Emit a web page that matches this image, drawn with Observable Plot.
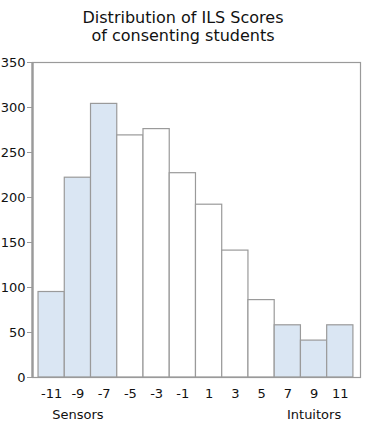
<!DOCTYPE html>
<html>
<head>
<meta charset="utf-8">
<script src="https://cdn.jsdelivr.net/npm/d3@7"></script>
<script src="https://cdn.jsdelivr.net/npm/@observablehq/plot@0.6"></script>
<style>
  html, body { margin: 0; padding: 0; background: #fff; }
  #title {
    width: 366px; box-sizing: border-box; padding-top: 9px;
    font: 16px "DejaVu Sans", sans-serif; line-height: 18px;
    text-align: center; color: #111;
  }
  svg { display: block; }
</style>
</head>
<body>
<div id="title">Distribution of ILS Scores<br>of consenting students</div>
<div id="chart"></div>
<script>
// ILS sensing/intuitive scale: odd scores from -11 to 11, student counts per score
const scores = [-11, -9, -7, -5, -3, -1, 1, 3, 5, 7, 9, 11];
const counts = [95, 222, 304, 269, 276, 227, 192, 141, 86, 58, 41, 58];
// the three strongest scores at each end are shaded
const strong = [true, true, true, false, false, false, false, false, false, true, true, true];
const poleLabels = ["Sensors", "Intuitors"];
const polePositions = [-9, 9];
const yTicks = [0, 50, 100, 150, 200, 250, 300, 350];

const bins = scores.map((s, i) => ({score: s, count: counts[i], strong: strong[i]}));
const poles = poleLabels.map((label, i) => ({label, x: polePositions[i]}));

const gray = "#9a9a9a";

const chart = Plot.plot({
  width: 366,
  height: 381,
  marginTop: 17,
  marginBottom: 49,
  marginLeft: 32,
  marginRight: 6,
  style: {fontFamily: "DejaVu Sans, sans-serif", fontSize: "13px", color: "#111"},
  x: {domain: [-12.46, 12.54]},
  y: {domain: [0, 350]},
  marks: [
    Plot.rect(bins, {
      x1: d => d.score - 1,
      x2: d => d.score + 1,
      y1: 0,
      y2: "count",
      fill: d => d.strong ? "#dae6f3" : "#ffffff",
      stroke: gray,
      strokeWidth: 1.2
    }),
    Plot.frame({stroke: gray, strokeWidth: 1.2}),
    Plot.ruleX([-12.46], {stroke: gray, strokeWidth: 2.4}),
    Plot.axisY({ticks: yTicks, tickFormat: d => String(d), tickSize: 5, tickPadding: 2, stroke: gray, label: null, fontSize: 13}),
    Plot.axisX({ticks: scores, tickFormat: d => String(d), tickSize: 0, tickPadding: 11, label: null, fontSize: 13}),
    Plot.text(poles, {
      x: "x",
      text: "label",
      frameAnchor: "bottom",
      dy: 41,
      fontSize: 13,
      fill: "#111"
    })
  ]
});

document.getElementById("chart").appendChild(chart);
</script>
</body>
</html>
